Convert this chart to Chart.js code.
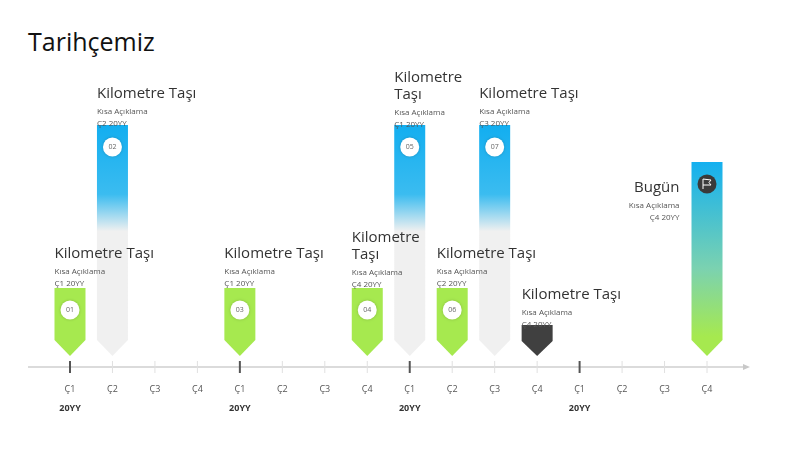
<!DOCTYPE html>
<html><head><meta charset="utf-8">
<script src="https://cdn.jsdelivr.net/npm/chart.js@4"></script>
<style>
body{margin:0;background:#fff;width:796px;height:450px;overflow:hidden;position:relative;font-family:"Open Sans",sans-serif}
h1{position:absolute;left:28px;top:24px;margin:0;font-weight:400;font-size:25px;color:#111}
#wrap{position:absolute;left:0;top:0;width:796px;height:450px}
</style></head><body>
<h1>Tarihçemiz</h1>
<div id="wrap"><canvas id="c"></canvas></div>
<script>
// Timeline data
const quarters = ['Ç1','Ç2','Ç3','Ç4','Ç1','Ç2','Ç3','Ç4','Ç1','Ç2','Ç3','Ç4','Ç1','Ç2','Ç3','Ç4'];
const years = ['20YY','20YY','20YY','20YY'];
const markPos = [0, 1, 4, 7, 8, 9, 10, 11, 15];
const markHeight = [68, 231, 68, 68, 231, 68, 231, 31, 194];
const markKind = ['green','blue','green','green','blue','green','blue','dark','today'];
const markNum = ['01','02','03','04','05','06','07','',''];
const markTitle = ['Kilometre Taşı','Kilometre Taşı','Kilometre Taşı','Kilometre\nTaşı','Kilometre\nTaşı','Kilometre Taşı','Kilometre Taşı','Kilometre Taşı','Bugün'];
const markDesc = 'Kısa Açıklama';
const markDate = ['Ç1 20YY','Ç2 20YY','Ç1 20YY','Ç4 20YY','Ç1 20YY','Ç2 20YY','Ç3 20YY','Ç4 20YY','Ç4 20YY'];

const textTop = [236, 76, 236, 220, 60, 236, 76, 277, 170];

function fillFor(ctx, kind, top, bottom) {
    if (kind === 'green') return '#a6e94f';
    if (kind === 'dark') return '#404040';
    const g = ctx.createLinearGradient(0, top, 0, bottom);
    if (kind === 'blue') {
        g.addColorStop(0, '#12aef0');
        g.addColorStop(0.3, '#3bbcf0');
        g.addColorStop(0.46, '#f0f0f0');
        g.addColorStop(1, '#f0f0f0');
    } else {
        g.addColorStop(0, '#14b0f0');
        g.addColorStop(0.55, '#7bd2b0');
        g.addColorStop(0.9, '#a6e94f');
        g.addColorStop(1, '#a6e94f');
    }
    return g;
}

const timelinePlugin = {
    id: 'timeline',
    beforeDatasetsDraw(chart) {
        const ctx = chart.ctx, xs = chart.scales.x;
        const axisY = 367;
        ctx.save();
        ctx.strokeStyle = '#cfcfcf'; ctx.lineWidth = 1.5;
        ctx.beginPath(); ctx.moveTo(28, axisY); ctx.lineTo(745, axisY); ctx.stroke();
        ctx.fillStyle = '#c8c8c8';
        ctx.beginPath(); ctx.moveTo(750, axisY); ctx.lineTo(743, axisY - 3); ctx.lineTo(743, axisY + 3); ctx.fill();
        quarters.forEach((q, i) => {
            const x = xs.getPixelForValue(i);
            const major = i % 4 === 0;
            ctx.strokeStyle = major ? '#555' : '#e0e0e0';
            ctx.lineWidth = major ? 2 : 1;
            ctx.beginPath(); ctx.moveTo(x, axisY - 6); ctx.lineTo(x, axisY + 6); ctx.stroke();
            ctx.fillStyle = '#555'; ctx.font = '9px "Open Sans"'; ctx.textAlign = 'center';
            ctx.fillText(q, x, 392);
            if (major) {
                ctx.font = 'bold 9px "Open Sans"'; ctx.fillStyle = '#333';
                ctx.fillText(years[i / 4], x, 411);
            }
        });
        ctx.restore();
    },
    afterDatasetsDraw(chart) {
        const ctx = chart.ctx;
        const meta = chart.getDatasetMeta(0);
        ctx.save();
        // shapes first
        meta.data.forEach((bar, i) => {
            const kind = markKind[i];
            const cx = bar.x, w = bar.width, top = bar.y, tip = bar.base;
            const l = cx - w / 2, r = cx + w / 2, notch = kind === 'dark' ? 15 : 16;
            ctx.fillStyle = fillFor(ctx, kind, top, tip);
            ctx.beginPath();
            ctx.moveTo(l, top); ctx.lineTo(r, top); ctx.lineTo(r, tip - notch);
            ctx.lineTo(cx, tip); ctx.lineTo(l, tip - notch); ctx.closePath(); ctx.fill();
            const cy = top + 22;
            if (markNum[i]) {
                ctx.fillStyle = '#fff';
                ctx.shadowColor = 'rgba(0,0,0,0.2)'; ctx.shadowBlur = 3;
                ctx.beginPath(); ctx.arc(cx, cy, 9.5, 0, Math.PI * 2); ctx.fill();
                ctx.shadowBlur = 0;
                ctx.fillStyle = '#666'; ctx.font = '7px "Open Sans"'; ctx.textAlign = 'center'; ctx.textBaseline = 'middle';
                ctx.fillText(markNum[i], cx, cy);
                ctx.textBaseline = 'alphabetic';
            }
            if (kind === 'today') {
                ctx.fillStyle = '#3a3a3a';
                ctx.beginPath(); ctx.arc(cx, cy, 9.5, 0, Math.PI * 2); ctx.fill();
                ctx.strokeStyle = '#fff'; ctx.lineWidth = 1;
                ctx.beginPath(); ctx.moveTo(cx - 4, cy + 5); ctx.lineTo(cx - 4, cy - 5);
                ctx.lineTo(cx + 4, cy - 4); ctx.lineTo(cx + 2, cy - 1.5); ctx.lineTo(cx + 4, cy + 1); ctx.lineTo(cx - 4, cy + 1); ctx.stroke();
            }
        });
        // labels on top
        meta.data.forEach((bar, i) => {
            const right = markKind[i] === 'today';
            const l = bar.x - bar.width / 2;
            const tx = right ? l - 12 : l;
            ctx.textAlign = right ? 'right' : 'left';
            let y = textTop[i] + 22;
            ctx.fillStyle = '#333'; ctx.font = '15px "Open Sans"';
            markTitle[i].split('\n').forEach(line => { ctx.fillText(line, tx, y); y += 17; });
            ctx.font = '8px "Open Sans"'; ctx.fillStyle = '#555';
            ctx.fillText(markDesc, tx, y - 1);
            ctx.fillText(markDate[i], tx, y + 11);
        });
        ctx.restore();
    }
};

new Chart(document.getElementById('c'), {
    type: 'bar',
    data: {
        datasets: [{
            data: markPos.map((p, i) => ({ x: p, y: [0, markHeight[i]] })),
            backgroundColor: 'rgba(0,0,0,0)',
            barThickness: 31
        }]
    },
    options: {
        responsive: true, maintainAspectRatio: false, animation: false,
        layout: { padding: { top: 20, bottom: 94, left: 0, right: 0 } },
        plugins: { legend: { display: false }, tooltip: { enabled: false } },
        scales: {
            x: { type: 'linear', offset: false, min: -70 / 42.47, max: 15 + 89 / 42.47, display: false, grid: { offset: false } },
            y: { min: 0, max: 336, display: false }
        }
    },
    plugins: [timelinePlugin]
});
</script>
</body></html>
